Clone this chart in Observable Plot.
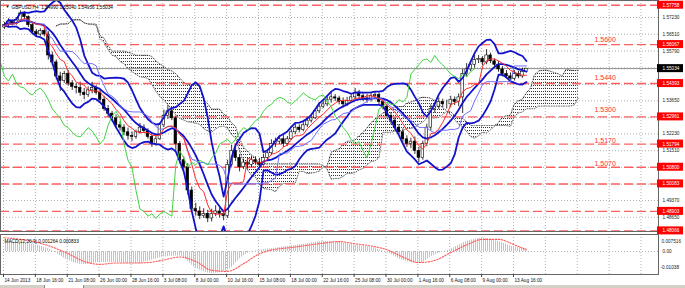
<!DOCTYPE html>
<html><head><meta charset="utf-8">
<script src="https://cdn.jsdelivr.net/npm/d3@7"></script>
<script src="https://cdn.jsdelivr.net/npm/@observablehq/plot@0.6"></script>
<style>
body{margin:0;background:#fff;}
#wrap{position:relative;width:685px;height:288px;overflow:hidden;background:#fff;}
#tabs{position:absolute;left:0;top:285px;width:685px;height:3px;background:#d4d0c8;}
#tab{position:absolute;left:44px;top:285px;width:38px;height:3px;background:#fff;border-left:1px solid #888;border-right:1px solid #888;}
</style></head><body>
<div id="wrap"><div id="main"></div><div id="macd"></div><div id="tabs"></div><div id="tab"></div></div>
<script>
// ---------- data (8-hour candles, 3 per trading day) ----------
const firstOpen = 1.5680;
const closes = [
1.5690,1.5705,1.5695, 1.5710,1.5740,1.5725, 1.5690,1.5660,1.5650, 1.5665,1.5650,1.5560,
1.5530,1.5470,1.5450, 1.5480,1.5440,1.5425, 1.5420,1.5400,1.5390, 1.5410,1.5420,1.5400,
1.5370,1.5330,1.5310, 1.5290,1.5260,1.5250, 1.5230,1.5215,1.5210, 1.5230,1.5250,1.5235,
1.5210,1.5180,1.5200, 1.5260,1.5300,1.5320, 1.5290,1.5180,1.5110, 1.5080,1.4980,1.4900,
1.4890,1.4870,1.4880, 1.4860,1.4880,1.4890, 1.4880,1.4870,1.5090, 1.5150,1.5120,1.5080,
1.5100,1.5090,1.5110, 1.5100,1.5090,1.5120, 1.5140,1.5180,1.5190, 1.5200,1.5180,1.5200,
1.5230,1.5250,1.5240, 1.5260,1.5280,1.5290, 1.5320,1.5340,1.5350, 1.5370,1.5380,1.5375,
1.5360,1.5350,1.5365, 1.5380,1.5400,1.5385, 1.5375,1.5370,1.5385, 1.5390,1.5360,1.5340,
1.5300,1.5280,1.5250, 1.5230,1.5200,1.5180, 1.5190,1.5150,1.5120, 1.5180,1.5250,1.5330,
1.5340,1.5360,1.5350, 1.5350,1.5370,1.5360, 1.5380,1.5480,1.5500, 1.5520,1.5540,1.5545,
1.5530,1.5560,1.5535, 1.5520,1.5500,1.5480, 1.5470,1.5460,1.5480, 1.5470,1.5490,1.5503];
const highs = [
1.5702,1.5718,1.5712, 1.5722,1.5752,1.5748, 1.5730,1.5698,1.5672, 1.5675,1.5680,1.5662,
1.5575,1.5540,1.5488, 1.5492,1.5495,1.5452, 1.5440,1.5445,1.5418, 1.5425,1.5445,1.5430,
1.5410,1.5385,1.5345, 1.5320,1.5305,1.5275, 1.5262,1.5248,1.5232, 1.5240,1.5268,1.5262,
1.5245,1.5225,1.5215, 1.5270,1.5325,1.5345, 1.5335,1.5300,1.5190, 1.5125,1.5095,1.4995,
1.4925,1.4910,1.4902, 1.4895,1.4900,1.4915, 1.4905,1.4895,1.5110, 1.5175,1.5170,1.5135,
1.5115,1.5120,1.5128, 1.5125,1.5118,1.5135, 1.5152,1.5198,1.5205, 1.5215,1.5222,1.5212,
1.5240,1.5265,1.5262, 1.5272,1.5295,1.5305, 1.5330,1.5358,1.5365, 1.5382,1.5400,1.5392,
1.5385,1.5378,1.5380, 1.5392,1.5418,1.5410, 1.5395,1.5392,1.5400, 1.5402,1.5398,1.5372,
1.5348,1.5315,1.5292, 1.5262,1.5245,1.5215, 1.5205,1.5210,1.5165, 1.5192,1.5265,1.5348,
1.5355,1.5378,1.5372, 1.5368,1.5385,1.5382, 1.5395,1.5500,1.5525, 1.5535,1.5562,1.5560,
1.5555,1.5585,1.5570, 1.5545,1.5535,1.5512, 1.5495,1.5485,1.5495, 1.5492,1.5505,1.5504];
const lows = [
1.5672,1.5684,1.5688, 1.5690,1.5702,1.5712, 1.5680,1.5648,1.5638, 1.5642,1.5640,1.5540,
1.5515,1.5455,1.5405, 1.5440,1.5428,1.5410, 1.5395,1.5385,1.5370, 1.5380,1.5395,1.5390,
1.5360,1.5320,1.5295, 1.5275,1.5245,1.5235, 1.5215,1.5196,1.5190, 1.5200,1.5222,1.5225,
1.5200,1.5165,1.5170, 1.5195,1.5250,1.5285, 1.5280,1.5150,1.5095, 1.5065,1.4960,1.4885,
1.4870,1.4855,1.4860, 1.4842,1.4845,1.4868, 1.4862,1.4850,1.4860, 1.5080,1.5105,1.5060,
1.5070,1.5072,1.5080, 1.5088,1.5075,1.5085, 1.5110,1.5130,1.5165, 1.5178,1.5165,1.5170,
1.5195,1.5220,1.5228, 1.5232,1.5250,1.5270, 1.5285,1.5310,1.5332, 1.5340,1.5355,1.5362,
1.5348,1.5335,1.5340, 1.5355,1.5370,1.5372, 1.5362,1.5355,1.5360, 1.5372,1.5348,1.5325,
1.5290,1.5262,1.5235, 1.5218,1.5185,1.5165, 1.5160,1.5135,1.5100, 1.5110,1.5168,1.5235,
1.5312,1.5328,1.5335, 1.5330,1.5335,1.5345, 1.5340,1.5310,1.5465, 1.5490,1.5505,1.5525,
1.5515,1.5520,1.5525, 1.5505,1.5488,1.5468, 1.5458,1.5445,1.5450, 1.5460,1.5462,1.5485];

const xTickLabels = ["14 Jun 2013","18 Jun 16:00","21 Jun 08:00","26 Jun 00:00","28 Jun 16:00",
  "3 Jul 08:00","8 Jul 00:00","10 Jul 16:00","15 Jul 08:00","18 Jul 00:00","22 Jul 16:00",
  "25 Jul 08:00","30 Jul 00:00","1 Aug 16:00","6 Aug 08:00","9 Aug 00:00","13 Aug 16:00"];
const topLevel = 1.5795;
const gridLevels = [1.5723,1.5651,1.5579,1.5507,1.5435,1.5365,1.5293,1.5223,1.5151,1.5079,1.5007,1.4937,1.4865];
const levelLines = [1.57758,1.56067,1.54393,1.52961,1.51794,1.50800,1.50083,1.48903,1.48066];
const levelNotes = [1.5600,1.5440,1.5300,1.5170,1.5070];
const lastPrice = 1.55034;
const titleText = "GBPUSD,H4  1.54990 1.55040 1.54956 1.55034";
const macdTitle = "MACD(12,26,9) 0.001264 0.000833";
// MACD sampled every 4 candles (candle index), main (histogram) and signal
const macdCandles = [0,4,8,12,16,20,24,28,32,36,40,44,48,52,56,60,64,68,72,76,80,84,88,92,96,100,104,108,112,116,120,124,128,131];
const macdMain = [0.0045,0.0040,0.0030,0.0005,-0.0040,-0.0060,-0.0050,-0.0050,-0.0055,-0.0045,-0.0025,-0.0020,
  -0.0075,-0.0100,-0.0085,-0.0020,0.0005,0.0015,0.0025,0.0035,0.0045,0.0042,0.0030,0.0020,-0.0005,-0.0040,
  -0.0055,-0.0015,0.0010,0.0045,0.0060,0.0045,0.0020,0.0013];
const macdSignal = [0.0062,0.0055,0.0042,0.0020,-0.0010,-0.0045,-0.0058,-0.0052,-0.0052,-0.0050,-0.0038,-0.0025,
  -0.0045,-0.0085,-0.0090,-0.0055,-0.0010,0.0010,0.0018,0.0028,0.0038,0.0045,0.0035,0.0025,0.0008,-0.0025,
  -0.0050,-0.0040,-0.0005,0.0030,0.0055,0.0055,0.0030,0.0008];
const macdAxis = ["0.007516","0.00","-0.01038"];

// ---------- helpers ----------
const N = closes.length;
const idx = d3.range(N);
const opens = idx.map(i => i === 0 ? firstOpen : closes[i - 1]);
const barOf = i => 2 * i + 0.5;            // 4-hour bar position of an 8-hour candle
const tickBars = xTickLabels.map((_, k) => k * 16);
const gridBars = d3.range(0, 321, 16);
const XDOM = [-1.506, 328.8];
const XMAX = XDOM[1];
const popSd = V => { const m = d3.mean(V); return Math.sqrt(d3.mean(V, v => (v - m) ** 2)); };
const midRange = n => idx.map(i => { const s = Math.max(0, i - n + 1);
  return (d3.max(highs.slice(s, i + 1)) + d3.min(lows.slice(s, i + 1))) / 2; });
const tenkan = midRange(5), kijun = midRange(13), spanB = midRange(26);
const spanA = idx.map(i => (tenkan[i] + kijun[i]) / 2);

const BLUE = "#1212cc";
const dotted = {stroke: "#b0b0b0", strokeDasharray: "1,2"};
const tiny = 4.7;
const style = {fontFamily: "'Liberation Sans', Arial, sans-serif", fontSize: "5px", background: "transparent", overflow: "visible"};

const main = Plot.plot({
  width: 685, height: 232, marginTop: 0, marginBottom: 1, marginLeft: 0, marginRight: 27,
  x: {domain: XDOM, axis: null},
  y: {domain: [1.4804, 1.5796], axis: null},
  color: {type: "identity"},
  style,
  marks: [
    Plot.ruleY([topLevel, ...gridLevels], dotted),
    Plot.ruleX(gridBars, dotted),
    Plot.areaY(idx, {x: i => barOf(i) + 26, y1: i => spanA[i], y2: i => spanB[i], fill: "url(#dots)", clip: true}),
    Plot.line(idx, {x: i => barOf(i) + 26, y: i => spanA[i], stroke: "#444", strokeWidth: 0.8, strokeDasharray: "1,1.5", clip: true}),
    Plot.line(idx, {x: i => barOf(i) + 26, y: i => spanB[i], stroke: "#444", strokeWidth: 0.8, strokeDasharray: "1,1.5", clip: true}),
    Plot.ruleY(levelLines, {stroke: "#ff6060", strokeWidth: 1.4, strokeDasharray: "9,4"}),
    Plot.ruleY([lastPrice], {stroke: "#8c8c8c", strokeWidth: 1}),
    Plot.ruleX(idx, {x: barOf, y1: i => lows[i], y2: i => highs[i], stroke: "#000", strokeWidth: 0.8}),
    Plot.rect(idx, {x1: i => barOf(i) - 0.65, x2: i => barOf(i) + 0.65, y1: i => opens[i], y2: i => closes[i],
      fill: i => closes[i] >= opens[i] ? "#ffffff" : "#000000", stroke: "#000", strokeWidth: 0.6}),
    // Bollinger bands (20 x 4h = 10 candles)
    Plot.line(closes, Plot.windowY({k: 10, anchor: "end", reduce: V => d3.mean(V) + 2 * popSd(V)},
      {x: (d, i) => barOf(i), y: d => d, stroke: BLUE, strokeWidth: 1.8, clip: true})),
    Plot.line(closes, Plot.windowY({k: 10, anchor: "end", reduce: "mean"},
      {x: (d, i) => barOf(i), y: d => d, stroke: BLUE, strokeWidth: 1.8, clip: true})),
    Plot.line(closes, Plot.windowY({k: 10, anchor: "end", reduce: V => d3.mean(V) - 2 * popSd(V)},
      {x: (d, i) => barOf(i), y: d => d, stroke: BLUE, strokeWidth: 1.8, clip: true})),
    // Ichimoku lines
    Plot.line(idx, {x: barOf, y: i => kijun[i], stroke: "#6f6fff", strokeWidth: 1, clip: true}),
    Plot.line(idx, {x: barOf, y: i => tenkan[i], stroke: "#ff2a2a", strokeWidth: 1, clip: true}),
    Plot.line(idx, {x: i => barOf(i) - 26, y: i => closes[i], stroke: "#3fd43f", strokeWidth: 1, clip: true}),
    // level notes
    Plot.text(levelNotes, {x: 302, y: d => d, text: d => d.toFixed(4), dy: -6, fill: "#ff3030", fontSize: 7}),
    Plot.frame({stroke: "#666"}),
    // right price axis
    Plot.text([topLevel], {frameAnchor: "top-right", text: d => d.toFixed(5), textAnchor: "start", dx: 4, dy: 3, fill: "#222", fontSize: tiny}),
    Plot.text(gridLevels, {x: XMAX, y: d => d, text: d => d.toFixed(5), textAnchor: "start", dx: 4, fill: "#222", fontSize: tiny}),
    Plot.rect(levelLines, {x1: XMAX, x2: XMAX, y1: d => d, y2: d => d, insetLeft: -1, insetRight: -25, insetTop: -4, insetBottom: -4, fill: "#ff0000"}),
    Plot.text(levelLines, {x: XMAX, y: d => d, text: d => d.toFixed(5), textAnchor: "start", dx: 4, fill: "#fff", fontSize: tiny}),
    Plot.rect([lastPrice], {x1: XMAX, x2: XMAX, y1: d => d, y2: d => d, insetLeft: -1, insetRight: -25, insetTop: -4, insetBottom: -4, fill: "#000"}),
    Plot.text([lastPrice], {x: XMAX, y: d => d, text: d => d.toFixed(5), textAnchor: "start", dx: 4, fill: "#fff", fontSize: tiny}),
    Plot.text(["\u25BC"], {frameAnchor: "top-left", dx: 5, dy: 5, fontSize: 4, fill: "#000"}),
    Plot.text([titleText], {frameAnchor: "top-left", dx: 11, dy: 5, textAnchor: "start", fontSize: tiny, fill: "#000"})
  ]
});

const macd = Plot.plot({
  width: 685, height: 53, marginTop: 2, marginBottom: 11, marginLeft: 0, marginRight: 27,
  x: {domain: XDOM, axis: null},
  y: {domain: [-0.0104, 0.0077], axis: null},
  style,
  marks: [
    Plot.ruleX(gridBars, dotted),
    Plot.ruleY([0], dotted),
    Plot.areaY(macdCandles, {x: c => barOf(c), y: (c, k) => macdMain[k], fill: "url(#vstripe)", curve: "monotone-x"}),
    Plot.line(macdCandles, {x: c => barOf(c), y: (c, k) => macdSignal[k], stroke: "#ff5a5a", strokeWidth: 1.1, strokeDasharray: "1.5,1.5", curve: "monotone-x"}),
    Plot.frame({stroke: "#666"}),
    Plot.text([macdTitle], {frameAnchor: "top-left", dx: 4, dy: 5, textAnchor: "start", fontSize: tiny, fill: "#000"}),
    Plot.text([macdAxis[0]], {frameAnchor: "top-right", dx: 3, dy: 5, textAnchor: "start", fontSize: tiny, fill: "#222"}),
    Plot.text([0], {x: XMAX, y: d => d, text: () => macdAxis[1], dx: 4, textAnchor: "start", fontSize: tiny, fill: "#222"}),
    Plot.text([macdAxis[2]], {frameAnchor: "bottom-right", dx: 2, dy: -6, textAnchor: "start", fontSize: tiny, fill: "#222"}),
    Plot.ruleX(tickBars, {insetTop: 40, insetBottom: -3, stroke: "#444"}),
    Plot.text(tickBars, {x: d => d, text: (d, i) => xTickLabels[i], frameAnchor: "bottom", dy: 7, dx: 1, textAnchor: "start", fontSize: tiny, fill: "#111"})
  ]
});

function addDefs(svg, html) {
  const defs = document.createElementNS("http://www.w3.org/2000/svg", "defs");
  defs.innerHTML = html;
  svg.insertBefore(defs, svg.firstChild);
}
addDefs(main, '<pattern id="dots" patternUnits="userSpaceOnUse" width="2" height="3"><rect x="1" y="1" width="1" height="1" fill="#333"/></pattern>');
addDefs(macd, '<pattern id="vstripe" patternUnits="userSpaceOnUse" width="2" height="4"><rect x="1" y="0" width="1" height="4" fill="#c4c4c4"/></pattern>');
document.getElementById("main").appendChild(main);
document.getElementById("macd").appendChild(macd);
</script>
</body></html>
